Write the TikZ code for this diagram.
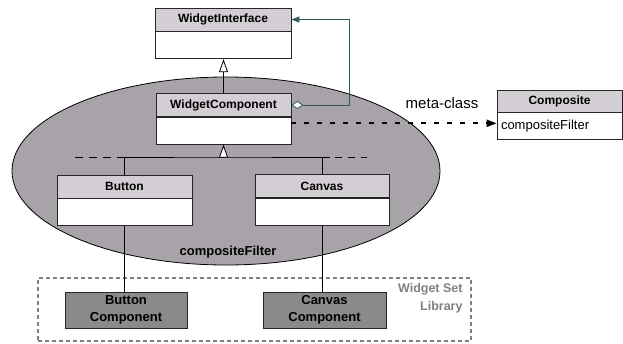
\documentclass[tikz,border=0pt]{standalone}
\usepackage{fontspec}
\setmainfont{Liberation Sans}
\usetikzlibrary{arrows.meta, positioning, calc}
\definecolor{hdrgray}{HTML}{D3CED3}
\definecolor{ellgray}{HTML}{A8A3A8}
\definecolor{compgray}{HTML}{8A8A8A}
\definecolor{assoc}{HTML}{2F5C58}
\definecolor{libgray}{HTML}{808080}
\tikzset{
  clshead/.style={draw=black!85, fill=hdrgray, line width=0.8pt, minimum height=23pt, inner sep=0pt, font=\fontsize{12}{13}\selectfont\bfseries},
  clsbody/.style={draw=black!85, fill=white, line width=0.8pt, minimum height=27pt, inner sep=0pt},
  libcomp/.style={draw=black!85, fill=compgray, line width=0.8pt, minimum height=36pt, inner sep=0pt, align=center, font=\fontsize{13}{17}\selectfont\bfseries},
  inherit/.style={line width=0.8pt, -{Triangle[fill=white, length=13pt, width=9pt]}},
  tree/.style={line width=0.8pt},
  treedash/.style={line width=0.8pt, dash pattern=on 8pt off 6pt}
}
\begin{document}
\begin{tikzpicture}[x=1pt, y=-1pt]
\useasboundingbox (0,0) rectangle (623,343);
\draw[fill=ellgray, line width=0.8pt] (226,171) ellipse [x radius=214pt, y radius=94pt];
\node[font=\fontsize{13}{14}\selectfont\bfseries] (filterLbl) at (228,252) {compositeFilter};

\node[clshead, minimum width=136pt] (wiHead) at (223,19.5) {WidgetInterface};
\node[clsbody, minimum width=136pt, below=0pt of wiHead] (wiBody) {};
\node[clshead, minimum width=135pt] (wcHead) at (223.5,105) {WidgetComponent};
\node[clsbody, minimum width=135pt, below=0pt of wcHead] (wcBody) {};
\node[clshead, minimum width=135pt] (btnHead) at (124.5,186.5) {Button};
\node[clsbody, minimum width=135pt, below=0pt of btnHead] (btnBody) {};
\node[clshead, minimum width=134pt] (cnvHead) at (322,186) {Canvas};
\node[clsbody, minimum width=134pt, below=0pt of cnvHead] (cnvBody) {};
\node[clshead, minimum width=125pt, minimum height=22pt] (compHead) at (559.5,101) {Composite};
\node[clsbody, inner xsep=4pt, text width=117pt, align=left, font=\fontsize{13}{14}\selectfont, below=0pt of compHead] (compBody) {compositeFilter};

\coordinate (fork) at (223.5,157);
\coordinate (dashL) at (75,157);
\coordinate (dashR) at (367,157);
\draw[inherit] (wcHead.north) -- (wcHead.north |- wiBody.south);
\draw[inherit] (fork) -- (wcBody.south);
\draw[tree] (btnHead.north) |- (fork) -| (cnvHead.north);
\draw[treedash] (dashL) -- (btnHead.north |- fork);
\draw[tree] (cnvHead.north |- fork) -- ++(8,0) coordinate (dashS);
\draw[treedash, dash pattern=on 7pt off 6pt, dash phase=-5pt] (dashS) -- (dashR);

\draw[assoc, line width=0.8pt, {Diamond[fill=white, length=12pt, width=8pt]}-{Triangle[length=8pt, width=6pt]}] (wcHead.east) -- ++(58,0) |- (wiHead.east);

\draw[line width=2pt, dash pattern=on 5pt off 8pt, -{Triangle[length=10pt, width=7pt]}] (wcBody.east |- {$(compBody.west)+(0,-3)$}) -- ([yshift=3pt]compBody.west);
\node[font=\fontsize{15}{16}\selectfont] (metaLbl) at (442,103) {meta-class};

\node[draw=libgray, line width=1.5pt, dash pattern=on 4pt off 3pt, minimum width=433pt, minimum height=63pt, inner sep=0pt] (libBox) at (254.5,309.5) {};
\node[libcomp, minimum width=122pt] (bcomp) at (126,310) {Button\\Component};
\node[libcomp, minimum width=123pt] (ccomp) at (324.5,310) {Canvas\\Component};
\node[anchor=north east, align=right, text=libgray, inner sep=0pt, font=\fontsize{12.5}{18}\selectfont\bfseries] (libLbl) at ([shift={(-9,6)}]libBox.north east) {Widget Set\\Library};

\draw[tree] (btnBody.south) -- (btnBody.south |- bcomp.north);
\draw[tree] (cnvBody.south) -- (cnvBody.south |- ccomp.north);
\end{tikzpicture}
\end{document}
